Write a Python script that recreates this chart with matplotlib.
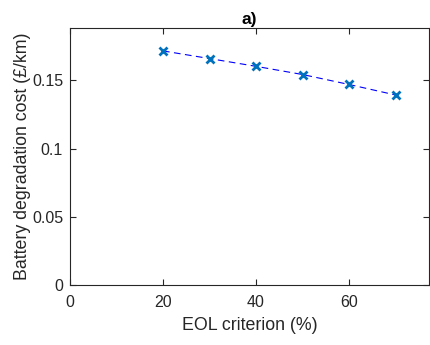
import matplotlib
matplotlib.use("Agg")
import matplotlib.pyplot as plt

plt.rcParams['font.family'] = ['Liberation Sans', 'DejaVu Sans']

eol = [20, 30, 40, 50, 60, 70]
cost = [0.1716, 0.166, 0.1603, 0.1543, 0.147, 0.1393]
xticks = [0, 20, 40, 60]
yticks = [0, 0.05, 0.1, 0.15]
yticklabels = ['0', '0.05', '0.1', '0.15']

fig = plt.figure(figsize=(4.3, 3.45), dpi=100)
ax = fig.add_axes([70/430, 1-285/345, 359/430, 257/345])
ax.plot(eol, cost, linestyle=(0, (6, 4)), color=(0, 0, 1), linewidth=0.8)
ax.plot(eol, cost, linestyle='none', marker='x', markersize=5.5, markeredgewidth=2.0,
        color=(0, 0.447, 0.741))
ax.set_xlim(0, 77.2)
ax.set_ylim(0, 0.1884)
ax.set_xticks(xticks)
ax.set_yticks(yticks)
ax.set_yticklabels(yticklabels)
ax.tick_params(direction='in', top=True, right=True, labelsize=11.5, colors='#262626',
               length=4)
ax.tick_params(axis='x', pad=7)
ax.tick_params(axis='y', pad=5)
for s in ax.spines.values():
    s.set_color('#262626')
    s.set_linewidth(0.8)
ax.set_xlabel('EOL criterion (%)', fontsize=12.8, color='#262626', labelpad=5)
ax.set_ylabel('Battery degradation cost (£/km)', fontsize=12.8, color='#262626', labelpad=1)
ax.set_title('a)', fontsize=12.5, fontweight='bold', pad=3)
fig.savefig('out.png', dpi=100)
